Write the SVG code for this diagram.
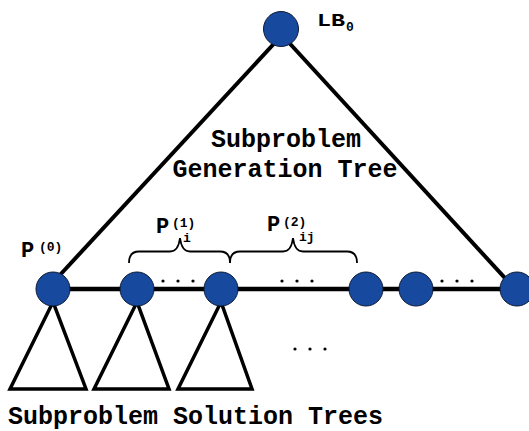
<svg xmlns="http://www.w3.org/2000/svg" width="529" height="431" viewBox="0 0 529 431">
<style>
.node{fill:#174a9e;stroke:#0d1a33;stroke-width:1}
.edge{stroke:#000;fill:none;stroke-linecap:butt}
.tri{fill:none;stroke:#000;stroke-width:3.5;stroke-linejoin:miter}
.brace{fill:none;stroke:#000;stroke-width:1.8}
.dot{fill:#000}
.t{font-family:"Liberation Mono","Courier New",monospace;font-weight:bold;fill:#000}
</style>
<rect width="529" height="431" fill="#fff"/>
<g id="connectors">
<line class="edge" x1="282" y1="35" x2="47" y2="289" stroke-width="4"/>
<line class="edge" x1="282" y1="35" x2="515" y2="289" stroke-width="4"/>
<line class="edge" x1="53" y1="289" x2="517" y2="289" stroke-width="4.5"/>
<path class="tri" d="M53,302 L10,389 L86,389 Z"/>
<path class="tri" d="M137,302 L94,389 L169,389 Z"/>
<path class="tri" d="M221,302 L178,389 L252,389 Z"/>
<path class="brace" d="M129,263 C129,255 132,251.5 139,251.5 L170,251.5 C176,251.5 179,246 180,238 C181,246 184,251.5 190,251.5 L220,251.5 C227,251.5 230,255 230,263"/>
<path class="brace" d="M230,263 C230,255 233,251.5 240,251.5 L283,251.5 C289,251.5 292,246 293,238 C294,246 297,251.5 303,251.5 L347,251.5 C354,251.5 357,255 357,263"/>
</g>
<g id="dots">
<circle class="dot" cx="163" cy="281" r="1.6"/><circle class="dot" cx="178" cy="281" r="1.6"/><circle class="dot" cx="193" cy="281" r="1.6"/>
<circle class="dot" cx="282" cy="281" r="1.6"/><circle class="dot" cx="297" cy="281" r="1.6"/><circle class="dot" cx="312" cy="281" r="1.6"/>
<circle class="dot" cx="442" cy="281" r="1.6"/><circle class="dot" cx="457" cy="281" r="1.6"/><circle class="dot" cx="472" cy="281" r="1.6"/>
<circle class="dot" cx="295" cy="349" r="1.6"/><circle class="dot" cx="310" cy="349" r="1.6"/><circle class="dot" cx="325" cy="349" r="1.6"/>
</g>
<g id="root"><circle class="node" cx="281" cy="29" r="17.5"/></g>
<g id="n0"><circle class="node" cx="53" cy="289" r="17"/></g>
<g id="n1"><circle class="node" cx="137" cy="289" r="17"/></g>
<g id="n2"><circle class="node" cx="221" cy="289" r="17"/></g>
<g id="n3"><circle class="node" cx="366" cy="289" r="17"/></g>
<g id="n4"><circle class="node" cx="416" cy="289" r="17"/></g>
<g id="n5"><circle class="node" cx="517" cy="289" r="17"/></g>
<g id="labels">
<text class="t" x="317" y="26" font-size="18" textLength="28" lengthAdjust="spacingAndGlyphs">LB</text>
<text class="t" x="346" y="31" font-size="13" font-weight="normal">0</text>
<text class="t" x="286" y="147" font-size="25" text-anchor="middle">Subproblem</text>
<text class="t" x="285" y="177" font-size="25" text-anchor="middle">Generation Tree</text>
<text class="t" x="21" y="257" font-size="22">P</text>
<text class="t" x="39" y="251" font-size="13">(0)</text>
<text class="t" x="156" y="233" font-size="22">P</text>
<text class="t" x="172" y="227" font-size="13">(1)</text>
<text class="t" x="183" y="242" font-size="13">i</text>
<text class="t" x="267" y="231" font-size="22">P</text>
<text class="t" x="283" y="226" font-size="13">(2)</text>
<text class="t" x="299" y="241" font-size="13">ij</text>
<text class="t" x="8" y="424" font-size="25">Subproblem Solution Trees</text>
</g>
</svg>
